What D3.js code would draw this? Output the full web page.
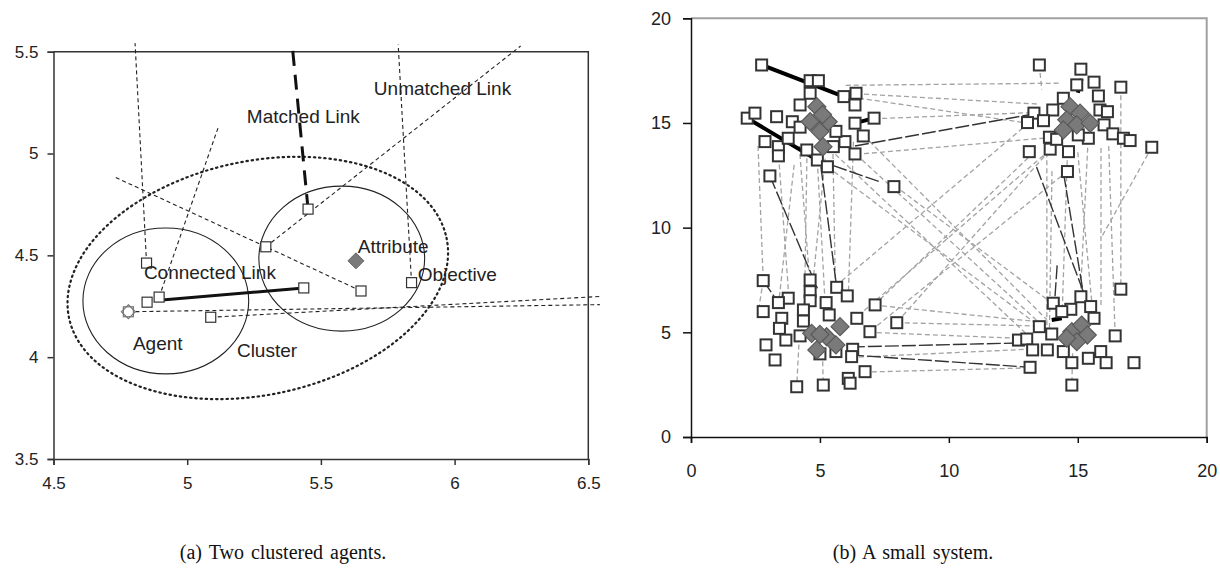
<!DOCTYPE html>
<html>
<head>
<meta charset="utf-8">
<script src="https://cdn.jsdelivr.net/npm/d3@7"></script>
<style>
  body { margin: 0; background: #fff; }
  svg { display: block; }
</style>
</head>
<body>
<div id="chart"></div>
<script>
// ---------- panel (a): two clustered agents ----------
const aTicksX = [4.5, 5, 5.5, 6, 6.5];
const aTicksY = [3.5, 4, 4.5, 5, 5.5];
const aSquares = [[4.85, 4.27], [4.895, 4.295], [5.436, 4.34], [4.848, 4.462], [5.294, 4.542],
                  [5.452, 4.727], [5.65, 4.325], [5.839, 4.366], [5.088, 4.196]];
const aAgent = [4.78, 4.223];
const aAttribute = [5.631, 4.473];
const aDashedLinks = [
  [[4.848, 4.462], [4.805, 5.542]],
  [[4.895, 4.295], [5.115, 5.125]],
  [[4.733, 4.882], [5.294, 4.542], [5.65, 4.325]],
  [[5.294, 4.542], [6.247, 5.528]],
  [[5.839, 4.366], [5.789, 5.535]],
  [[4.78, 4.223], [6.543, 4.258]],
  [[5.088, 4.196], [6.543, 4.298]]
];
const aMatchedLink = [[5.452, 4.727], [5.392, 5.542]];
const aConnectedLink = [[4.895, 4.28], [5.436, 4.34]];
// circles: centre x, centre y, radius in x units, radius in y units, tilt (deg)
const aCircles = [[4.92, 4.276, 0.31, 0.358, 0], [5.578, 4.484, 0.31, 0.356, 0]];
const aClusterRing = [5.264, 4.389, 0.7215, 0.574, -12];
const aLabels = [
  ["Matched Link", 5.223, 5.149], ["Unmatched Link", 5.698, 5.287],
  ["Connected Link", 4.838, 4.384], ["Attribute", 5.638, 4.511],
  ["Objective", 5.862, 4.374], ["Agent", 4.797, 4.035], ["Cluster", 5.186, 4.001]
];

// ---------- panel (b): a small system ----------
const bTicks = [0, 5, 10, 15, 20];
const squaresTL = [[2.74,17.77],[4.62,17.02],[4.94,17.02],[4.62,16.42],[5.93,16.26],[6.40,16.42],[6.36,15.86],
  [4.23,15.86],[2.18,15.23],[2.48,15.47],[3.32,15.30],[3.93,15.06],[6.36,14.99],[7.10,15.23],[6.68,14.38],
  [5.97,14.11],[2.87,14.11],[3.39,13.87],[3.77,14.27],[3.39,13.43],[4.49,13.71],[4.90,13.23],[5.29,12.91],
  [6.36,13.52],[5.52,13.87],[3.06,12.47],[7.87,11.96],[4.23,14.8],[5.62,14.6]];
const squaresTR = [[13.51,17.77],[15.12,17.57],[14.96,16.82],[15.63,16.95],[16.67,16.71],[14.44,16.18],[15.80,16.29],
  [15.86,15.62],[16.15,15.54],[14.03,15.62],[13.30,15.47],[13.05,15.02],[13.67,15.11],[16.02,14.91],[16.36,14.48],
  [16.77,14.27],[17.03,14.16],[17.87,13.84],[13.12,13.63],[13.93,13.75],[14.64,13.63],[13.90,14.32],[15.41,14.27],
  [15.02,14.43],[14.60,12.68],[14.18,14.22]];
const squaresBL = [[2.80,7.47],[4.62,7.50],[4.62,6.94],[3.77,6.63],[3.39,6.42],[4.62,6.51],[5.65,7.15],[6.06,6.74],
  [5.24,6.42],[7.14,6.31],[7.98,5.46],[2.80,5.99],[3.52,5.67],[3.43,5.19],[4.36,6.07],[4.36,5.54],[5.36,5.83],
  [6.43,5.67],[6.94,5.03],[2.91,4.40],[3.68,4.63],[4.23,4.83],[3.26,3.68],[6.27,4.19],[6.23,3.84],[6.75,3.12],
  [6.10,2.80],[6.17,2.57],[4.10,2.40],[5.13,2.48],[5.0,3.97],[5.62,4.08]];
const squaresBR = [[16.67,7.06],[14.05,6.39],[15.12,6.70],[15.50,6.23],[14.73,6.10],[14.38,5.99],[15.63,5.67],
  [13.51,5.27],[13.99,4.92],[12.70,4.63],[13.02,4.68],[13.25,4.16],[13.82,4.16],[14.44,4.08],[14.77,3.55],
  [15.41,3.76],[15.89,4.08],[16.10,3.55],[16.45,4.83],[17.18,3.55],[13.15,3.33],[14.77,2.48]];
const attributesB = [[4.88,15.78],[4.62,15.06],[5.32,15.06],[5.0,14.59],[5.12,13.87],[5.1,15.4],
  [14.70,15.78],[15.09,15.47],[14.57,15.15],[14.96,14.91],[15.48,14.99],[14.44,14.67],
  [4.68,4.95],[4.88,4.16],[5.26,4.79],[5.78,5.27],[5.62,4.40],[5.0,4.9],
  [14.77,5.03],[15.15,5.35],[15.37,4.87],[14.96,4.55],[14.57,4.72]];
const unmatchedB = [
  [[6.0,16.8],[14.3,16.9]], [[6.4,16.4],[13.5,15.9]], [[7.1,15.2],[13.3,15.5]], [[6.4,13.5],[13.9,14.3]],
  [[5.9,16.3],[13.0,15.0]], [[13.51,17.77],[13.6,16.6]],
  [[2.6,13.9],[2.8,7.5]], [[3.4,13.4],[3.8,6.6]], [[4.2,13.9],[4.6,7.5]], [[4.5,13.7],[4.4,6.1]],
  [[4.9,13.2],[5.2,6.4]], [[5.5,13.9],[5.6,7.2]], [[6.3,14.1],[6.1,6.7]], [[4.0,13.0],[3.4,6.4]], [[5.2,13.3],[4.7,7.0]],
  [[5.3,12.9],[13.5,5.3]], [[5.6,13.5],[13.2,4.7]], [[6.4,13.5],[14.0,4.9]], [[7.9,12.0],[14.0,6.4]], [[6.7,14.4],[13.8,5.6]],
  [[13.3,13.6],[7.1,6.3]], [[13.9,13.7],[6.4,5.7]], [[14.6,12.7],[6.9,5.0]], [[13.1,15.0],[5.6,7.2]], [[13.7,13.4],[8.0,5.5]],
  [[13.8,13.6],[13.8,5.3]], [[14.6,13.6],[14.4,6.1]], [[15.4,14.2],[15.1,6.7]], [[15.9,13.8],[15.9,6.2]],
  [[16.67,16.71],[16.67,7.06]], [[17.87,13.84],[15.9,9.5]], [[14.0,12.7],[13.9,5.0]], [[15.0,13.6],[15.6,5.7]],
  [[16.2,13.9],[16.45,4.83]],
  [[7.98,5.46],[13.5,5.3]], [[6.9,5.0],[13.0,4.7]], [[6.2,3.8],[13.2,4.2]], [[6.7,3.1],[13.1,3.3]], [[7.1,6.3],[13.5,5.5]],
  [[4.2,4.8],[4.1,2.4]], [[5.1,4.0],[5.13,2.48]], [[14.8,4.0],[14.77,2.48]], [[2.8,7.47],[2.6,5.9]]
];
const connectedB = [
  [[5.04,12.91],[5.65,7.15]], [[3.06,12.47],[4.9,7.1]], [[13.4,12.9],[15.35,6.5]], [[14.45,12.6],[15.25,6.6]],
  [[14.2,8.2],[14.1,6.4]], [[6.36,13.9],[13.15,15.4]], [[4.9,13.23],[7.3,12.2]], [[6.2,4.3],[13.0,4.5]],
  [[6.17,3.92],[13.15,3.33]], [[2.8,7.47],[3.4,6.4]]
];
const matchedB = [
  [[2.74,17.77],[5.93,16.26]], [[2.18,15.23],[4.9,13.23]], [[6.36,14.99],[7.10,15.23]],
  [[15.0,16.44],[15.15,17.1]], [[13.99,5.59],[14.38,5.67]]
];

const width = 1220, height = 569;
const svg = d3.select("#chart").append("svg")
  .attr("width", width).attr("height", height);

const sans = "'Liberation Sans', Arial, sans-serif";
const line = d3.line();

// ================= panel (a) =================
const xa = d3.scaleLinear().domain([4.5, 6.5]).range([53.5, 588.3]);
const ya = d3.scaleLinear().domain([3.5, 5.5]).range([459, 51.7]);
const ga = svg.append("g");

// frame (top + right)
ga.append("path")
  .attr("d", `M${xa(4.5)},${ya(5.5)}H${xa(6.5)}V${ya(3.5)}`)
  .attr("fill", "none").attr("stroke", "#333").attr("stroke-width", 1.5);

function styleAxis(g, size, color) {
  g.select(".domain").attr("stroke", color).attr("stroke-width", 1.5);
  g.selectAll(".tick line").attr("stroke", color).attr("stroke-width", 1.5);
  g.selectAll(".tick text").attr("fill", "#222").style("font-family", sans).style("font-size", size + "px");
}

ga.append("g").attr("transform", `translate(0,${ya(3.5)})`)
  .call(d3.axisBottom(xa).tickValues(aTicksX).tickFormat(d => String(d)).tickSizeOuter(0).tickSize(6).tickPadding(12))
  .call(g => styleAxis(g, 17, "#333"));
ga.append("g").attr("transform", `translate(${xa(4.5)},0)`)
  .call(d3.axisLeft(ya).tickValues(aTicksY).tickFormat(d => String(d)).tickSizeOuter(0).tickSize(6).tickPadding(9))
  .call(g => styleAxis(g, 17, "#333"));

// circles
aCircles.concat([aClusterRing]).forEach((c, i) => {
  const cx = xa(c[0]), cy = ya(c[1]);
  const solid = i < aCircles.length;
  ga.append("ellipse")
    .attr("cx", cx).attr("cy", cy)
    .attr("rx", xa(c[0] + c[2]) - cx).attr("ry", cy - ya(c[1] + c[3]))
    .attr("transform", `rotate(${c[4]},${cx},${cy})`)
    .attr("fill", "none").attr("stroke", "#222")
    .attr("stroke-width", solid ? 1.1 : 2.2)
    .attr("stroke-dasharray", solid ? null : "1.4,3.8")
    .attr("stroke-linecap", solid ? null : "round");
});

const lineA = line.x(d => xa(d[0])).y(d => ya(d[1]));
ga.selectAll(".dlink").data(aDashedLinks).enter().append("path")
  .attr("d", d => lineA(d)).attr("fill", "none")
  .attr("stroke", "#222").attr("stroke-width", 1.1).attr("stroke-dasharray", "4,3");
ga.append("path").attr("d", lineA(aMatchedLink)).attr("fill", "none")
  .attr("stroke", "#111").attr("stroke-width", 3).attr("stroke-dasharray", "15,9");
ga.append("path").attr("d", lineA(aConnectedLink)).attr("fill", "none")
  .attr("stroke", "#111").attr("stroke-width", 3);

const sqA = 10;
ga.selectAll(".sq").data(aSquares).enter().append("rect")
  .attr("x", d => xa(d[0]) - sqA / 2).attr("y", d => ya(d[1]) - sqA / 2)
  .attr("width", sqA).attr("height", sqA)
  .attr("fill", "#fff").attr("stroke", "#333").attr("stroke-width", 1.2);

// agent: square with diamond outline
ga.append("rect")
  .attr("x", xa(aAgent[0]) - 5).attr("y", ya(aAgent[1]) - 5).attr("width", 10).attr("height", 10)
  .attr("fill", "#fff").attr("stroke", "#777").attr("stroke-width", 1.2);
const diamond = (cx, cy, r) => `M${cx},${cy - r}L${cx + r},${cy}L${cx},${cy + r}L${cx - r},${cy}Z`;
ga.append("path").attr("d", diamond(xa(aAgent[0]), ya(aAgent[1]), 7))
  .attr("fill", "none").attr("stroke", "#777").attr("stroke-width", 1.2);
ga.append("path").attr("d", diamond(xa(aAttribute[0]), ya(aAttribute[1]), 8))
  .attr("fill", "#7a7a7a").attr("stroke", "#666").attr("stroke-width", 1);

ga.selectAll(".lbl").data(aLabels).enter().append("text")
  .attr("x", d => xa(d[1])).attr("y", d => ya(d[2]))
  .style("font-family", sans).style("font-size", "19px").attr("fill", "#222")
  .text(d => d[0]);

// ================= panel (b) =================
const xb = d3.scaleLinear().domain([0, 20]).range([691, 1206.7]);
const yb = d3.scaleLinear().domain([0, 20]).range([437, 18.3]);
const gb = svg.append("g");

gb.append("path")
  .attr("d", `M${xb(0)},${yb(20)}H${xb(20)}V${yb(0)}`)
  .attr("fill", "none").attr("stroke", "#a0a0a0").attr("stroke-width", 2);

gb.append("g").attr("transform", `translate(0,${yb(0)})`)
  .call(d3.axisBottom(xb).tickValues(bTicks).tickSizeOuter(0).tickSize(6).tickPadding(21))
  .call(g => styleAxis(g, 18, "#111"));
gb.append("g").attr("transform", `translate(${xb(0)},0)`)
  .call(d3.axisLeft(yb).tickValues(bTicks).tickSizeOuter(0).tickSize(8).tickPadding(12))
  .call(g => styleAxis(g, 18, "#111"));

const lineB = d3.line().x(d => xb(d[0])).y(d => yb(d[1]));
gb.selectAll(".ulink").data(unmatchedB).enter().append("path")
  .attr("d", d => lineB(d)).attr("fill", "none")
  .attr("stroke", "#a3a3a3").attr("stroke-width", 1.3).attr("stroke-dasharray", "5,3");
gb.selectAll(".clink").data(connectedB).enter().append("path")
  .attr("d", d => lineB(d)).attr("fill", "none")
  .attr("stroke", "#333").attr("stroke-width", 1.4).attr("stroke-dasharray", "14,3");
gb.selectAll(".mlink").data(matchedB).enter().append("path")
  .attr("d", d => lineB(d)).attr("fill", "none")
  .attr("stroke", "#000").attr("stroke-width", 4);

const sqB = 11;
const allSquares = squaresTL.concat(squaresTR, squaresBL, squaresBR);
gb.selectAll(".sq").data(allSquares).enter().append("rect")
  .attr("x", d => xb(d[0]) - sqB / 2).attr("y", d => yb(d[1]) - sqB / 2)
  .attr("width", sqB).attr("height", sqB)
  .attr("fill", "#fff").attr("stroke", "#333").attr("stroke-width", 2);

gb.selectAll(".attr").data(attributesB).enter().append("path")
  .attr("d", d => diamond(xb(d[0]), yb(d[1]), 9))
  .attr("fill", "#7a7a7a").attr("stroke", "#5a5a5a").attr("stroke-width", 1.2);

// ================= captions =================
const serif = "'Liberation Serif', 'Times New Roman', serif";
svg.append("text").attr("x", 283).attr("y", 559).attr("text-anchor", "middle")
  .style("font-family", serif).style("font-size", "20px").style("word-spacing", "2px").attr("fill", "#111")
  .text("(a) Two clustered agents.");
svg.append("text").attr("x", 913).attr("y", 559).attr("text-anchor", "middle")
  .style("font-family", serif).style("font-size", "20px").style("word-spacing", "2px").attr("fill", "#111")
  .text("(b) A small system.");
</script>
</body>
</html>
